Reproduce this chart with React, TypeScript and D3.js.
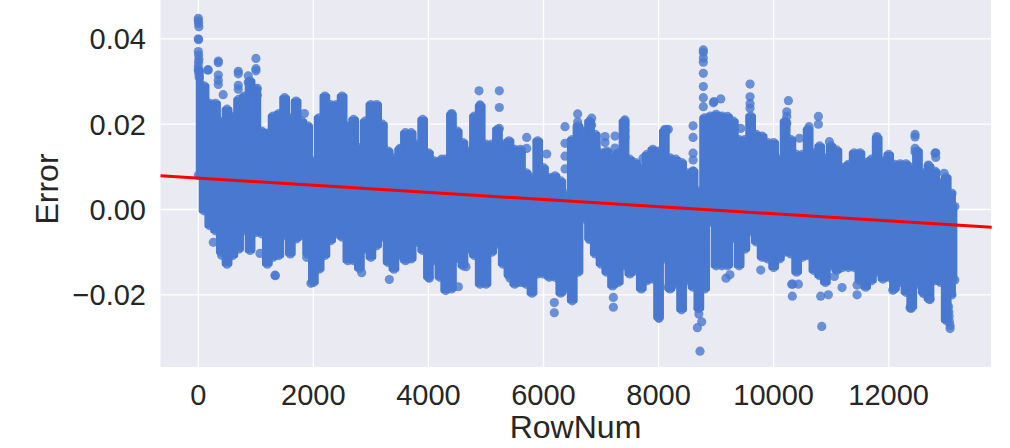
import React from "react";
import * as d3 from "d3";

const xTicks = [0, 2000, 4000, 6000, 8000, 10000, 12000];
const yTicks = [-0.02, 0, 0.02, 0.04];
const yTickLabels = ["\u22120.02", "0.00", "0.02", "0.04"];
const fitRows = [-657, 13790];
const fitErrors = [0.00792, -0.00417];

// Upper and lower edge of the solid band, read every 100 rows (last entry: row 13150)
const bandRows = [...d3.range(0, 13200, 100), 13150];
const upperErrors = [
  0.0327,0.029,0.0249,0.0249,0.0206,0.0235,0.0218,0.0258,0.0266,0.0301,0.0282,
  0.0184,0.0179,0.0219,0.0225,0.0262,0.0215,0.0254,0.0207,0.0196,0.0114,
  0.0215,0.0266,0.0246,0.0246,0.0266,0.0196,0.0211,0.0145,0.0207,0.0246,
  0.0246,0.02,0.0137,0.0121,0.0141,0.018,0.018,0.0153,0.0211,0.0133,
  0.0114,0.0114,0.0118,0.0223,0.0184,0.0157,0.0137,0.0219,0.0243,0.0153,
  0.0153,0.0188,0.0153,0.0161,0.0141,0.0141,0.0086,0.0075,0.0161,0.0098,
  0.0075,0.0079,0.0067,0.0036,0.0164,0.0196,0.0184,0.0207,0.0176,0.0133,
  0.0137,0.0125,0.0133,0.0207,0.0118,0.011,0.0098,0.0129,0.0141,0.0137,
  0.0184,0.0121,0.0118,0.011,0.0086,0.009,0.0043,0.0215,0.0219,0.0223,
  0.0219,0.0218,0.0207,0.0164,0.0164,0.0219,0.0176,0.0172,0.0157,0.0157,
  0.0118,0.0207,0.0164,0.0129,0.0129,0.0188,0.0133,0.0149,0.0121,0.0149,
  0.0139,0.0098,0.0106,0.0133,0.0133,0.011,0.0118,0.0168,0.0114,0.0129,
  0.0106,0.0107,0.0107,0.0098,0.0137,0.0086,0.0102,0.009,0.0063,0.0075,0.0038,
  0.0007,
];
const lowerErrors = [
  0.008,-0.0003,-0.0038,-0.005,-0.01,-0.0128,-0.0108,-0.0093,-0.005,-0.0096,-0.0054,
  -0.0057,-0.0128,-0.0112,-0.0108,-0.0061,-0.0104,-0.0069,-0.0061,-0.0104,-0.0171,
  -0.014,-0.0108,-0.0073,-0.0057,-0.0065,-0.012,-0.012,-0.0138,-0.0093,-0.0112,
  -0.0085,-0.0065,-0.0124,-0.014,-0.0108,-0.012,-0.0116,-0.0077,-0.0096,-0.0159,
  -0.012,-0.0159,-0.019,-0.0186,-0.0112,-0.0132,-0.0093,-0.0108,-0.0175,-0.0175,
  -0.01,-0.0081,-0.0128,-0.0154,-0.0175,-0.0171,-0.0175,-0.0196,-0.0151,-0.0151,
  -0.0159,-0.0159,-0.0196,-0.0186,-0.0214,-0.0147,-0.0022,-0.0068,-0.0104,-0.0128,
  -0.0147,-0.0179,-0.0171,-0.0132,-0.0151,-0.0143,-0.0186,-0.0167,-0.0163,-0.0253,
  -0.0116,-0.0186,-0.0175,-0.0235,-0.0167,-0.0182,-0.0232,-0.0186,-0.003,-0.0132,
  -0.0132,-0.0132,-0.0068,-0.0132,-0.0093,-0.0052,-0.0076,-0.0112,-0.0116,-0.0136,
  -0.0116,-0.01,-0.0104,-0.0147,-0.0112,-0.0108,-0.0143,-0.0155,-0.0171,-0.0132,
  -0.0143,-0.0136,-0.0136,-0.0136,-0.0167,-0.0182,-0.0167,-0.0147,-0.0163,-0.0159,
  -0.0186,-0.0171,-0.0194,-0.0229,-0.0175,-0.0194,-0.021,-0.0167,-0.0171,-0.026,-0.02,
  -0.0165,
];

// Isolated points and the stacked points of the spikes
const spikeRows = [
  0,0,5,10,0,5,0,5,10,5,0,5,10,15,163,174,348,348,348,348,348,432,695,695,695,695,869,869,1002,1002,1002,1025,1025,
  1843,1907,3506,4231,4404,4404,4404,4879,4896,4896,4896,5232,5232,5232,5708,5708,6056,6374,6374,6374,6374,
  6594,6594,6837,6837,7069,7069,7243,7243,7416,7416,7416,7416,7731,8112,8142,8170,8600,8600,8600,8600,8600,
  8778,8778,8778,8778,8778,8778,8778,8778,8953,8964,9081,9428,9590,9590,9590,9590,9590,10257,10228,10228,10228,
  10448,10616,10778,10778,10969,11792,11792,11792,12458,12458,12458,12458,12689,12806,12818,12818,12964,
  261,405,1072,1333,1339,1884,1958,2840,3320,4015,4503,4520,4653,5418,6188,6188,6796,7214,7214,8007,8007,8170,
  8674,8750,8720,8700,8690,9172,9240,9776,10314,10325,10332,10430,10818,10836,10951,11055,11189,11450,11450,
  12070,12388,12371,12603,12719,13067,13067,13055,13050,13045,13040,
];
const spikeErrors = [
  0.0448,0.0442,0.0436,0.0428,0.04,0.0398,0.037,0.0362,0.0352,0.0345,0.0335,0.0325,0.0318,0.031,0.0327,0.0327,0.0348,0.0344,0.0315,0.0303,0.0293,0.0269,0.0324,0.0318,0.0291,0.0282,0.0313,0.0298,0.0354,0.033,0.0325,0.0284,0.0268,
  0.0225,0.0186,0.0143,0.0118,0.0225,0.0202,0.0214,0.0278,0.0245,0.0235,0.0222,0.0278,0.0239,0.019,0.0169,0.0143,0.013,0.0194,0.0155,0.0125,0.0095,
  0.0224,0.0205,0.0214,0.0198,0.0171,0.0157,0.0172,0.0144,0.021,0.02,0.0185,0.017,0.012,0.0188,0.0186,0.0188,0.0196,0.0169,0.0132,0.0116,0.009,
  0.0374,0.0368,0.0355,0.0345,0.0319,0.0288,0.0262,0.0241,0.025,0.0253,0.0259,0.019,0.0294,0.0264,0.0248,0.0237,0.021,0.0255,0.0229,0.0218,0.0202,
  0.0167,0.0194,0.0218,0.02,0.0159,0.0171,0.016,0.0148,0.0176,0.017,0.0143,0.0135,0.0104,0.0132,0.0133,0.0122,0.0085,
  -0.0077,-0.0107,-0.0103,-0.0154,-0.0155,-0.0112,-0.0173,-0.0148,-0.0164,-0.0161,-0.0115,-0.0181,-0.0134,-0.0161,-0.0242,-0.0218,-0.007,-0.0229,-0.0206,-0.0255,-0.0235,-0.0183,
  -0.0277,-0.0263,-0.0332,-0.0245,-0.0232,-0.0161,-0.0153,-0.0142,-0.0175,-0.0203,-0.0175,-0.0175,-0.0203,-0.0274,-0.02,-0.0157,-0.0183,-0.02,-0.0177,
  -0.0189,-0.0232,-0.023,-0.0197,-0.0211,-0.0279,-0.0272,-0.0262,-0.025,-0.024,-0.0228,
];

const W = 1010, H = 448;
const x = d3.scaleLinear().domain([0, 12000]).range([198.3, 888.7]);
const y = d3.scaleLinear().domain([0, 0.04]).range([209.5, 38.8]);
const plot = { l: 160.5, r: 991, t: 0, b: 367 };
const fontFamily = "'Liberation Sans', Arial, sans-serif";
const textColor = "#262626";
const dotColor = "#4878cf";

export default function App() {
  const band = d3.area<number>()
    .curve(d3.curveStep)
    .x((r) => x(r))
    .y0((_, i) => y(lowerErrors[i]))
    .y1((_, i) => y(upperErrors[i]))(bandRows) as string;
  const fit = d3.line<number>().x((r) => x(r)).y((_, i) => y(fitErrors[i]))(fitRows) as string;
  const dots: [number, number][] = [
    ...bandRows.map((r, i) => [r, upperErrors[i]] as [number, number]),
    ...bandRows.map((r, i) => [r, lowerErrors[i]] as [number, number]),
    ...spikeRows.map((r, i) => [r, spikeErrors[i]] as [number, number]),
  ];
  return (
    <svg width={W} height={H} style={{ position: "absolute", left: 0, top: 0, background: "#fff" }}>
      <rect x={plot.l} y={plot.t} width={plot.r - plot.l} height={plot.b - plot.t} fill="#eaeaf2" />
      {xTicks.map((t) => (
        <line key={t} x1={x(t)} x2={x(t)} y1={plot.t} y2={plot.b} stroke="#fff" strokeWidth={1.3} />
      ))}
      {yTicks.map((t) => (
        <line key={t} x1={plot.l} x2={plot.r} y1={y(t)} y2={y(t)} stroke="#fff" strokeWidth={1.3} />
      ))}
      <path d={band} fill={dotColor} stroke={dotColor} strokeWidth={5} strokeLinejoin="round" />
      {dots.map(([r, e], i) => (
        <circle key={i} cx={x(r)} cy={y(e)} r={4.6} fill={dotColor} fillOpacity={0.8} />
      ))}
      <path d={fit} fill="none" stroke="#ff0000" strokeWidth={3} />
      {xTicks.map((t) => (
        <text key={t} x={x(t)} y={405} textAnchor="middle" fontSize={29} fontFamily={fontFamily} fill={textColor}>{t}</text>
      ))}
      {yTicks.map((t, i) => (
        <text key={t} x={146} y={y(t) + 10.5} textAnchor="end" fontSize={29} fontFamily={fontFamily} fill={textColor}>{yTickLabels[i]}</text>
      ))}
      <text x={575.5} y={438} textAnchor="middle" fontSize={32} fontFamily={fontFamily} fill={textColor}>RowNum</text>
      <text transform="translate(58,189) rotate(-90)" textAnchor="middle" fontSize={32} fontFamily={fontFamily} fill={textColor}>Error</text>
    </svg>
  );
}
